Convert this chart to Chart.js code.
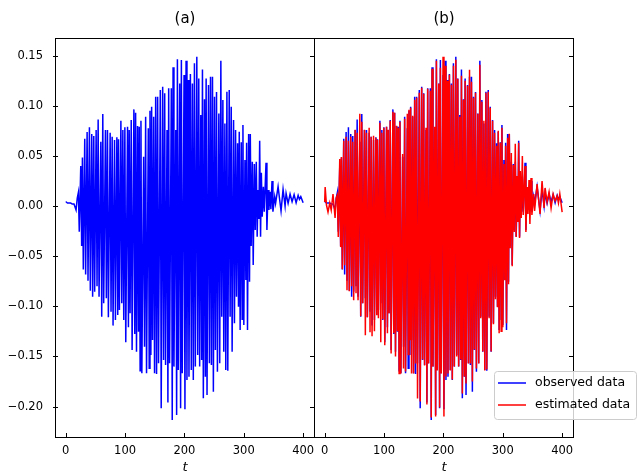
<!DOCTYPE html>
<html>
<head>
<meta charset="utf-8">
<script src="https://cdn.jsdelivr.net/npm/chart.js@4"></script>
<style>
  body { margin: 0; background: #fff; }
  #wrap { position: relative; width: 644px; height: 475px; }
  .box { position: absolute; top: 0; height: 475px; }
  #boxA { left: 0; width: 316px; }
  #boxB { left: 312px; width: 332px; }
</style>
</head>
<body>
<div id="wrap">
  <div class="box" id="boxA"><canvas id="chartA"></canvas></div>
  <div class="box" id="boxB"><canvas id="chartB"></canvas></div>
</div>
<script>
// time samples (shared by both series)
const t = [
  0, 0.8, 3, 5.6, 8.5, 11, 14, 17.5, 19.5,
  21.4, 22.9, 25.4, 26.9, 28.2, 29.7, 32.1, 33.6, 36.1, 37.6,
  40.0, 41.5, 43.9, 45.4, 47.3, 48.8, 51.3, 52.8, 54.7, 56.2,
  59.2, 60.7, 62.5, 64.0, 67.0, 68.5, 70.4, 71.9, 74.9, 76.4,
  78.3, 79.8, 82.3, 83.8, 86.2, 87.7, 89.0, 90.5, 93.0, 94.5,
  96.3, 97.8, 99.7, 101.2, 104.2, 105.7, 107.0, 108.5, 110.4, 111.9,
  114.9, 116.4, 117.8, 119.3, 121.1, 122.6, 123.9, 125.4, 126.8, 128.3,
  131.3, 132.8, 134.7, 136.2, 139.2, 140.7, 142.0, 143.5, 144.8, 146.3,
  148.2, 149.7, 151.6, 153.1, 154.9, 156.4, 159.4, 160.9, 163.4, 164.9,
  166.8, 168.3, 170.7, 172.2, 173.5, 175.0, 178.0, 179.5, 180.9, 182.4,
  185.4, 186.9, 188.2, 189.7, 192.1, 193.6, 194.9, 196.4, 199.4, 200.9,
  202.8, 204.3, 206.2, 207.7, 210.1, 211.6, 213.5, 215.0, 216.9, 218.4,
  220.9, 222.4, 224.2, 225.7, 227.6, 229.1, 230.4, 231.9, 233.8, 235.3,
  236.6, 238.1, 240.6, 242.1, 244.0, 245.5, 247.3, 248.8, 250.7, 252.2,
  254.1, 255.6, 258.0, 259.5, 261.4, 262.9, 264.8, 266.3, 268.2, 269.7,
  271.6, 273.1, 275.5, 277.0, 278.9, 280.4, 282.8, 284.3, 286.2, 287.7,
  289.6, 291.1, 292.4, 293.9, 295.8, 297.3, 298.6, 300.1, 302.0, 303.5,
  304.8, 306.3, 308.2, 309.7, 311.0, 312.5, 314.4, 315.9, 317.8, 319.3,
  321.1, 322.6, 324.0, 325.5, 326.8, 328.3, 329.6, 331.1, 333.0, 334.5,
  337.5, 339.0, 340.9, 342.4, 344.2, 345.7, 347.6, 349.1, 352.1, 353.6,
  357.8, 362.8, 366.2, 369.6, 371.3, 374.7, 378.0, 381.4, 384.8, 388.2, 391.6, 393.8, 396.1, 400.0
];

const observed = [
  0.004, 0.004, 0.003, 0.003, 0.003, 0.002, 0.002, -0.004, 0.008,
  0.0136, -0.0256, 0.0399, -0.0399, 0.0485, -0.0632, 0.0672, -0.0682, 0.0738, -0.0745,
  0.0785, -0.0844, 0.0718, -0.0904, 0.0698, -0.0854, 0.0758, -0.080, 0.0864, -0.0904,
  0.0642, -0.1104, 0.0918, -0.0971, 0.0758, -0.0921, 0.0758, -0.1110, 0.0731, -0.1054,
  0.0691, -0.1193, 0.0658, -0.1137, 0.0685, -0.1087, 0.0665, -0.1037, 0.0851, -0.0971,
  0.0758, -0.1137, 0.0785, -0.1360, 0.0791, -0.1210, 0.0758, -0.107, 0.0858, -0.1436,
  0.0964, -0.1277, 0.0931, -0.1453, 0.0798, -0.1253, 0.0791, -0.1642, 0.0851, -0.1669,
  0.0492, -0.1403, 0.0891, -0.1669, 0.0775, -0.1619, 0.0951, -0.1486, 0.0991, -0.1336,
  0.0891, -0.1669, 0.1090, -0.1676, 0.1090, -0.1569, 0.1157, -0.2018, 0.1190, -0.1536,
  0.1124, -0.1586, 0.0758, -0.1961, 0.1174, -0.1569, 0.1174, -0.2134, 0.1383, -0.1602,
  0.0758, -0.2084, 0.1463, -0.1636, 0.1223, -0.2018, 0.1456, -0.1669, 0.1307, -0.2028,
  0.1449, -0.1735, 0.1257, -0.1702, 0.1316, -0.1636, 0.1223, -0.1735, 0.1423, -0.1602,
  0.1489, -0.1486, 0.1273, -0.1602, 0.0908, -0.1536, 0.1363, -0.1918, 0.1064, -0.1702,
  0.1273, -0.1885, 0.1207, -0.1569, 0.1290, -0.1586, 0.1290, -0.1852, 0.1090, -0.1436,
  0.1137, -0.1652, 0.0924, -0.1569, 0.1449, -0.1104, 0.1057, -0.1453, 0.0824, -0.1636,
  0.1140, -0.1642, 0.1157, -0.1104, 0.0991, -0.1453, 0.0858, -0.1170, 0.0758, -0.0904,
  0.0625, -0.1004, 0.0741, -0.1237, 0.0635, -0.1130, 0.0808, -0.1187, 0.0459, -0.0738,
  0.0632, -0.1237, 0.0718, -0.0755, 0.0718, -0.0399, 0.0442, -0.0588, 0.0419, -0.0239,
  0.0442, -0.0306, 0.0160, -0.0130, 0.0652, -0.0306, 0.0332, -0.0106, 0.0193, -0.0057,
  0.0432, -0.0239, 0.0160, -0.0040, 0.0143, -0.0033, 0.0249, -0.0057, 0.0093, 0.0027,
  0.0193, -0.0050, 0.0166, 0.000, 0.0126, 0.0027, 0.0120, 0.0043, 0.0113, 0.0033, 0.0106, 0.0066, 0.0093, 0.0033
];

const estimated = [
  0.004, 0.019, 0.001, -0.006, 0.003, -0.004, 0.012, -0.012, 0.008,
  0.011, -0.031, 0.047, -0.041, 0.049, -0.063, 0.065, -0.059, 0.069, -0.084,
  0.065, -0.085, 0.069, -0.080, 0.064, -0.094, 0.076, -0.087, 0.073, -0.094,
  0.092, -0.110, 0.084, -0.097, 0.076, -0.129, 0.073, -0.111, 0.078, -0.126,
  0.069, -0.130, 0.070, -0.125, 0.068, -0.109, 0.066, -0.112, 0.083, -0.136,
  0.073, -0.113, 0.078, -0.139, 0.079, -0.127, 0.076, -0.107, 0.085, -0.147,
  0.094, -0.127, 0.093, -0.150, 0.080, -0.125, 0.078, -0.167, 0.084, -0.167,
  0.052, -0.162, 0.087, -0.165, 0.092, -0.148, 0.096, -0.134, 0.098, -0.167,
  0.090, -0.167, 0.106, -0.157, 0.108, -0.192, 0.113, -0.195, 0.118, -0.153,
  0.112, -0.159, 0.078, -0.198, 0.117, -0.157, 0.115, -0.211, 0.137, -0.160,
  0.079, -0.210, 0.145, -0.164, 0.122, -0.201, 0.138, -0.167, 0.149, -0.210,
  0.140, -0.170, 0.125, -0.167, 0.131, -0.164, 0.121, -0.173, 0.140, -0.160,
  0.146, -0.150, 0.127, -0.160, 0.089, -0.153, 0.130, -0.187, 0.106, -0.170,
  0.125, -0.177, 0.120, -0.157, 0.136, -0.157, 0.124, -0.175, 0.108, -0.143,
  0.113, -0.162, 0.092, -0.157, 0.141, -0.112, 0.104, -0.145, 0.085, -0.164,
  0.113, -0.163, 0.114, -0.112, 0.098, -0.145, 0.085, -0.118, 0.073, -0.093,
  0.060, -0.101, 0.075, -0.127, 0.063, -0.125, 0.078, -0.121, 0.042, -0.074,
  0.060, -0.117, 0.068, -0.078, 0.072, -0.042, 0.053, -0.060, 0.041, -0.026,
  0.062, -0.031, 0.030, -0.016, 0.063, -0.032, 0.035, -0.012, 0.050, -0.009,
  0.040, -0.026, 0.019, -0.008, 0.026, -0.018, 0.028, -0.009, 0.012, -0.005,
  0.022, -0.008, 0.025, -0.002, 0.018, 0.004, 0.014, -0.002, 0.012, 0.005, 0.010, 0.003, 0.012, -0.006
];

const xTicks = [0, 100, 200, 300, 400];
const yTicks = [-0.20, -0.15, -0.10, -0.05, 0.00, 0.05, 0.10, 0.15];
const panelTitles = ['(a)', '(b)'];
const seriesNames = ['observed data', 'estimated data'];
const seriesColors = ['#0000ff', '#ff0000'];

Chart.defaults.font.family = "'DejaVu Sans', sans-serif";
Chart.defaults.color = '#000';

const pts = ys => t.map((x, i) => ({ x: x, y: ys[i] }));

// frame + inward tick marks, matplotlib style
const frameTicks = {
  id: 'frameTicks',
  afterDraw(chart, args, opts) {
    const { ctx, chartArea: a, scales } = chart;
    ctx.save();
    ctx.strokeStyle = '#000';
    ctx.lineWidth = 1;
    ctx.beginPath();
    yTicks.forEach(v => {
      const py = Math.round(scales.y.getPixelForValue(v)) + 0.5;
      if (opts.leftTicks) { ctx.moveTo(a.left - 2, py); ctx.lineTo(a.left + 3, py); }
      ctx.moveTo(a.right - 5, py); ctx.lineTo(a.right, py);
    });
    xTicks.forEach(v => {
      const px = Math.round(scales.x.getPixelForValue(v)) + 0.5;
      ctx.moveTo(px, a.bottom); ctx.lineTo(px, a.bottom - 5);
    });
    ctx.stroke();
    ctx.strokeRect(a.left + 0.5, a.top + 0.5, a.right - a.left - 1, a.bottom - a.top - 1);
    ctx.restore();
  }
};

// legend box that sits over the bottom right of panel (b)
const boxLegend = {
  id: 'boxLegend',
  afterDraw(chart, args, opts) {
    if (!opts.show) return;
    const ctx = chart.ctx;
    const x = 182.5, y = 371.5, w = 142, h = 48, r = 3;
    ctx.save();
    ctx.beginPath();
    ctx.roundRect(x, y, w, h, r);
    ctx.fillStyle = 'rgba(255,255,255,0.8)';
    ctx.fill();
    ctx.strokeStyle = '#cccccc';
    ctx.lineWidth = 1;
    ctx.stroke();
    ctx.font = "12.5px 'DejaVu Sans', sans-serif";
    ctx.textBaseline = 'middle';
    const items = chart.data.datasets.slice().sort((p, q) => q.order - p.order);
    items.forEach((ds, i) => {
      const ly = 383 + i * 22;
      ctx.strokeStyle = ds.borderColor;
      ctx.lineWidth = 1.5;
      ctx.beginPath();
      ctx.moveTo(186, ly);
      ctx.lineTo(214, ly);
      ctx.stroke();
      ctx.fillStyle = '#000';
      ctx.fillText(ds.label, 223, ly);
    });
    ctx.restore();
  }
};

function makeChart(id, title, datasets, withY, padding, legend) {
  return new Chart(document.getElementById(id), {
    type: 'line',
    data: { datasets: datasets },
    plugins: [frameTicks, boxLegend],
    options: {
      responsive: true,
      maintainAspectRatio: false,
      animation: false,
      events: [],
      layout: { padding: padding },
      elements: { point: { radius: 0 }, line: { tension: 0, borderWidth: 1.5 } },
      plugins: {
        legend: { display: false },
        tooltip: { enabled: false },
        title: {
          display: true,
          text: title,
          fullSize: false,
          font: { size: 15, weight: 'normal' },
          padding: { top: 10, bottom: 10 }
        },
        frameTicks: { leftTicks: withY },
        boxLegend: { show: legend }
      },
      scales: {
        x: {
          type: 'linear',
          min: -18,
          max: 420,
          afterBuildTicks: s => { s.ticks = xTicks.map(v => ({ value: v })); },
          afterFit: s => { s.height = 37; s.paddingLeft = 0; s.paddingRight = 0; },
          grid: { display: false, drawTicks: false },
          border: { display: false },
          ticks: { font: { size: 11.5 }, padding: 6, maxRotation: 0, callback: v => String(v) },
          title: {
            display: true,
            text: 't',
            font: { size: 13, style: 'italic' },
            padding: { top: 0, bottom: 0 }
          }
        },
        y: {
          type: 'linear',
          display: withY,
          min: -0.2314,
          max: 0.1676,
          afterBuildTicks: s => { s.ticks = yTicks.map(v => ({ value: v })); },
          afterFit: s => { s.width = withY ? 55 : 0; s.paddingTop = 0; s.paddingBottom = 0; },
          grid: { display: false, drawTicks: false },
          border: { display: false },
          ticks: {
            font: { size: 11.5 },
            padding: 12,
            callback: v => v.toFixed(2).replace('-', '\u2212')
          }
        }
      }
    }
  });
}

makeChart('chartA', panelTitles[0], [
  { label: seriesNames[0], data: pts(observed), borderColor: seriesColors[0], order: 1 }
], true, { left: 0, right: 1, top: 0, bottom: 0 }, false);

makeChart('chartB', panelTitles[1], [
  { label: seriesNames[0], data: pts(observed), borderColor: seriesColors[0], order: 1 },
  { label: seriesNames[1], data: pts(estimated), borderColor: seriesColors[1], order: 0 }
], false, { left: 2, right: 70, top: 0, bottom: 0 }, true);
</script>
</body>
</html>
